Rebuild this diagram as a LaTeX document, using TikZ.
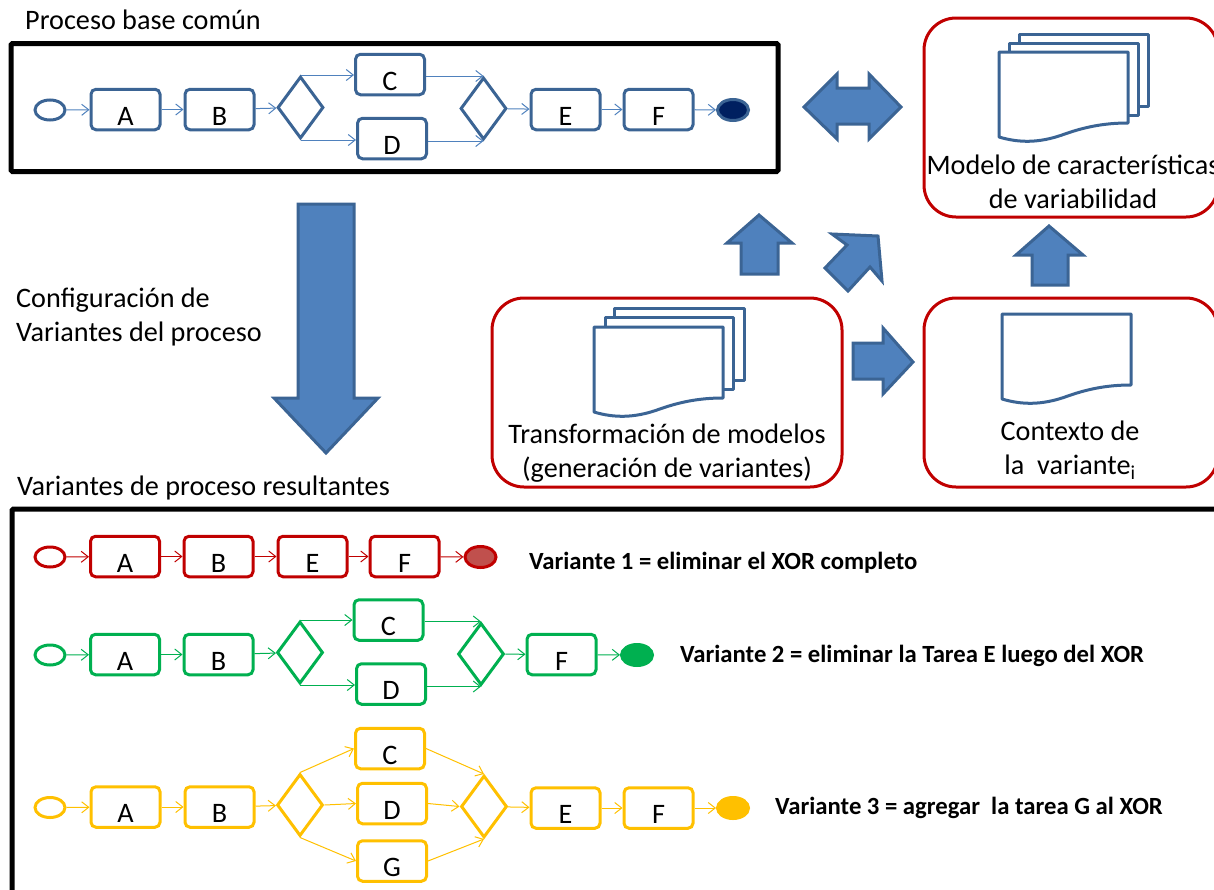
\documentclass[tikz,border=0pt]{standalone}
\usepackage{fontspec}
\setmainfont{Carlito}
\usepackage{tikz}
\usetikzlibrary{arrows.meta,shapes.geometric}
\definecolor{azul}{HTML}{3B6494}
\definecolor{azulclaro}{HTML}{4F81BD}
\definecolor{marino}{HTML}{002060}
\definecolor{rojo}{HTML}{C00000}
\definecolor{rojofin}{HTML}{C0504D}
\definecolor{verde}{HTML}{00B050}
\definecolor{ambar}{HTML}{FFC000}
\newcommand{\texto}{\fontsize{28.2}{34}\selectfont}
\newcommand{\negrita}{\fontsize{24.7}{28}\selectfont\bfseries}
\newcommand{\hoja}[2]{\draw[hojalinea,shift={(#1,#2)}] (0,0) -- (129,0) -- (129,71) .. controls (105,71) and (85,75) .. (63,83) .. controls (40,91) and (20,91) .. (0,85) -- cycle;}
\tikzset{
  tarea/.style={rectangle,draw=#1,line width=3pt,rounded corners=5pt,minimum width=69pt,minimum height=40.5pt,inner sep=0pt,text height=31pt,text depth=0pt,font=\texto},
  compuerta/.style={diamond,draw=#1,line width=3pt,minimum width=46pt,minimum height=62pt,inner sep=0pt},
  inicio/.style={ellipse,draw=#1,line width=3pt,fill=white,minimum width=30pt,minimum height=20pt,inner sep=0pt},
  fin/.style={ellipse,draw=#1,line width=3pt,minimum width=31pt,minimum height=21pt,inner sep=0pt},
  flujo/.style={draw=#1,line width=1pt,-{Straight Barb[length=7pt,width=11pt]}},
  caja/.style={rectangle,draw=rojo,line width=3pt,rounded corners=32pt,inner sep=0pt},
  marco/.style={rectangle,draw=black,line width=5pt,rounded corners=1.5pt,inner sep=0pt},
  flecha/.style={draw=azul,fill=azulclaro,line width=3pt,line join=miter},
  hojalinea/.style={draw=azul,fill=white,line width=3pt,line join=round},
  rotulo/.style={inner sep=0pt,font=\texto},
  variante/.style={inner sep=0pt,anchor=west,font=\negrita}
}
\begin{document}
\begin{tikzpicture}[x=1pt,y=-1pt]
  \useasboundingbox (0,0) rectangle (1214,889);
  % proceso base
  \node[rotulo,anchor=base west](base)at(25,29){Proceso base común};
  \node[marco,minimum width=767pt,minimum height=128pt](marcobase)at(394.5,107.5){};
  \node[inicio=azul](ini)at(50,110){};
  \node[tarea=azul](a)at(125.5,109.5){A};
  \node[tarea=azul](b)at(219.5,109.5){B};
  \node[compuerta=azul](xa)at(300.5,107.5){};
  \node[tarea=azul](c)at(390,74.5){C};
  \node[tarea=azul](d)at(392,138.5){D};
  \node[compuerta=azul](xb)at(483.5,108.5){};
  \node[tarea=azul](e)at(565.5,109.5){E};
  \node[tarea=azul](f)at(658.5,109.5){F};
  \node[fin=azul,fill=marino](end)at(733,110){};
  \draw[flujo=azulclaro](ini)--(a);
  \draw[flujo=azulclaro](a)--(b);
  \draw[flujo=azulclaro](b)--(xa);
  \draw[flujo=azulclaro](xa.north)--(xa.north-|c.west);
  \draw[flujo=azulclaro](xa.south)--(xa.south-|d.west);
  \draw[flujo=azulclaro](c.east|-xb.north)--(xb.north);
  \draw[flujo=azulclaro](d.east|-xb.south)--(xb.south);
  \draw[flujo=azulclaro](xb)--(e);
  \draw[flujo=azulclaro](e)--(f);
  \draw[flujo=azulclaro](f)--(end);
  % flechas grandes
  \draw[flecha](804,107)--(837,74)--(837,88)--(869,88)--(869,74)--(901,107)--(869,139)--(869,124)--(837,124)--(837,139)--cycle;
  \draw[flecha](298,204)--(354,204)--(354,398)--(378,398)--(326,453)--(274,398)--(298,398)--cycle;
  \draw[flecha](741,274)--(741,243)--(727,243)--(759,215)--(792,243)--(778,243)--(778,274)--cycle;
  \draw[flecha](832,234)--(878,236)--(882,281)--(870,267)--(848,291)--(825,268)--(847,245)--cycle;
  \draw[flecha](1032,285)--(1032,255)--(1016,255)--(1049,226)--(1083,255)--(1068,255)--(1068,285)--cycle;
  \draw[flecha](853,343)--(883,343)--(883,328)--(913,362)--(883,394)--(883,379)--(853,379)--cycle;
  % modelo
  \node[caja,minimum width=294pt,minimum height=199pt](modelo)at(1071,117.5){};
  \draw[hojalinea](1019,34)rectangle(1148,106);
  \draw[hojalinea](1009,43)rectangle(1138,115);
  \hoja{999}{52}
  \node[rotulo,align=center](tmodelo)at(1073,182){Modelo de características\\de variabilidad};
  % transformacion
  \node[caja,minimum width=350pt,minimum height=189pt](transf)at(667,392.5){};
  \draw[hojalinea](614,308)rectangle(744,380);
  \draw[hojalinea](605,317)rectangle(733,389);
  \hoja{594}{327}
  \node[rotulo,align=center](ttransf)at(667,453){Transformación de modelos\\(generación de variantes)};
  % contexto
  \node[caja,minimum width=294pt,minimum height=189pt](contexto)at(1071,392.5){};
  \hoja{1002}{314}
  \node[rotulo,align=center](tcontexto)at(1070,450){Contexto de\\la\ \ variante\textsubscript{i}};
  % etiquetas
  \node[rotulo,align=left,anchor=west](config)at(16,317){Configuración de\\Variantes del proceso};
  \node[rotulo,anchor=base west](result)at(17,495){Variantes de proceso resultantes};
  \node[marco,minimum width=1300pt,minimum height=500pt](marcovar)at(662,759){};
  % variante 1
  \node[inicio=rojo](ini1)at(50,557){};
  \node[tarea=rojo](a1)at(125,556.5){A};
  \node[tarea=rojo](b1)at(218.5,556.5){B};
  \node[tarea=rojo](e1)at(312.5,556.5){E};
  \node[tarea=rojo](f1)at(404.5,556.5){F};
  \node[fin=rojo,fill=rojofin](end1)at(480.5,557){};
  \draw[flujo=rojo](ini1)--(a1);
  \draw[flujo=rojo](a1)--(b1);
  \draw[flujo=rojo](b1)--(e1);
  \draw[flujo=rojo](e1)--(f1);
  \draw[flujo=rojo](f1)--(end1);
  \node[variante](t1)at(529,563){Variante 1 = eliminar el XOR completo};
  % variante 2
  \node[inicio=verde](ini2)at(50,655){};
  \node[tarea=verde](a2)at(125,654.5){A};
  \node[tarea=verde](b2)at(218.5,654.5){B};
  \node[compuerta=verde](xa2)at(300,652.5){};
  \node[tarea=verde](c2)at(388.5,620){C};
  \node[tarea=verde](d2)at(391,684){D};
  \node[compuerta=verde](xb2)at(481,654){};
  \node[tarea=verde](f2)at(561.5,654.5){F};
  \node[fin=verde,fill=verde](end2)at(637,655){};
  \draw[flujo=verde](ini2)--(a2);
  \draw[flujo=verde](a2)--(b2);
  \draw[flujo=verde](b2)--(xa2);
  \draw[flujo=verde](xa2.north)--(xa2.north-|c2.west);
  \draw[flujo=verde](xa2.south)--(xa2.south-|d2.west);
  \draw[flujo=verde](c2.east|-xb2.north)--(xb2.north);
  \draw[flujo=verde](d2.east|-xb2.south)--(xb2.south);
  \draw[flujo=verde](xb2)--(f2);
  \draw[flujo=verde](f2)--(end2);
  \node[variante](t2)at(680,656){Variante 2 = eliminar la Tarea E luego del XOR};
  % variante 3
  \node[inicio=ambar](ini3)at(50,807.5){};
  \node[tarea=ambar](a3)at(125.5,807){A};
  \node[tarea=ambar](b3)at(219.5,807){B};
  \node[compuerta=ambar](xa3)at(300,805){};
  \node[tarea=ambar](c3)at(390,748.5){C};
  \node[tarea=ambar](d3)at(392,803.5){D};
  \node[tarea=ambar](g3)at(392,861){G};
  \node[compuerta=ambar](xb3)at(484,806.5){};
  \node[tarea=ambar](e3)at(565.5,808){E};
  \node[tarea=ambar](f3)at(658.5,808){F};
  \node[fin=ambar,fill=ambar](end3)at(733,808){};
  \draw[flujo=ambar](ini3)--(a3);
  \draw[flujo=ambar](a3)--(b3);
  \draw[flujo=ambar](b3)--(xa3);
  \draw[flujo=ambar](xa3.north)--(c3.west);
  \draw[flujo=ambar](xa3.east)--(d3.west);
  \draw[flujo=ambar](xa3.south)--(g3.west);
  \draw[flujo=ambar](c3.east)--(xb3.north);
  \draw[flujo=ambar](d3.east)--(xb3.west);
  \draw[flujo=ambar](g3.east)--(xb3.south);
  \draw[flujo=ambar](xb3)--(e3);
  \draw[flujo=ambar](e3)--(f3);
  \draw[flujo=ambar](f3)--(end3);
  \node[variante](t3)at(775,808){Variante 3 = agregar\ \ la tarea G al XOR};
\end{tikzpicture}
\end{document}
